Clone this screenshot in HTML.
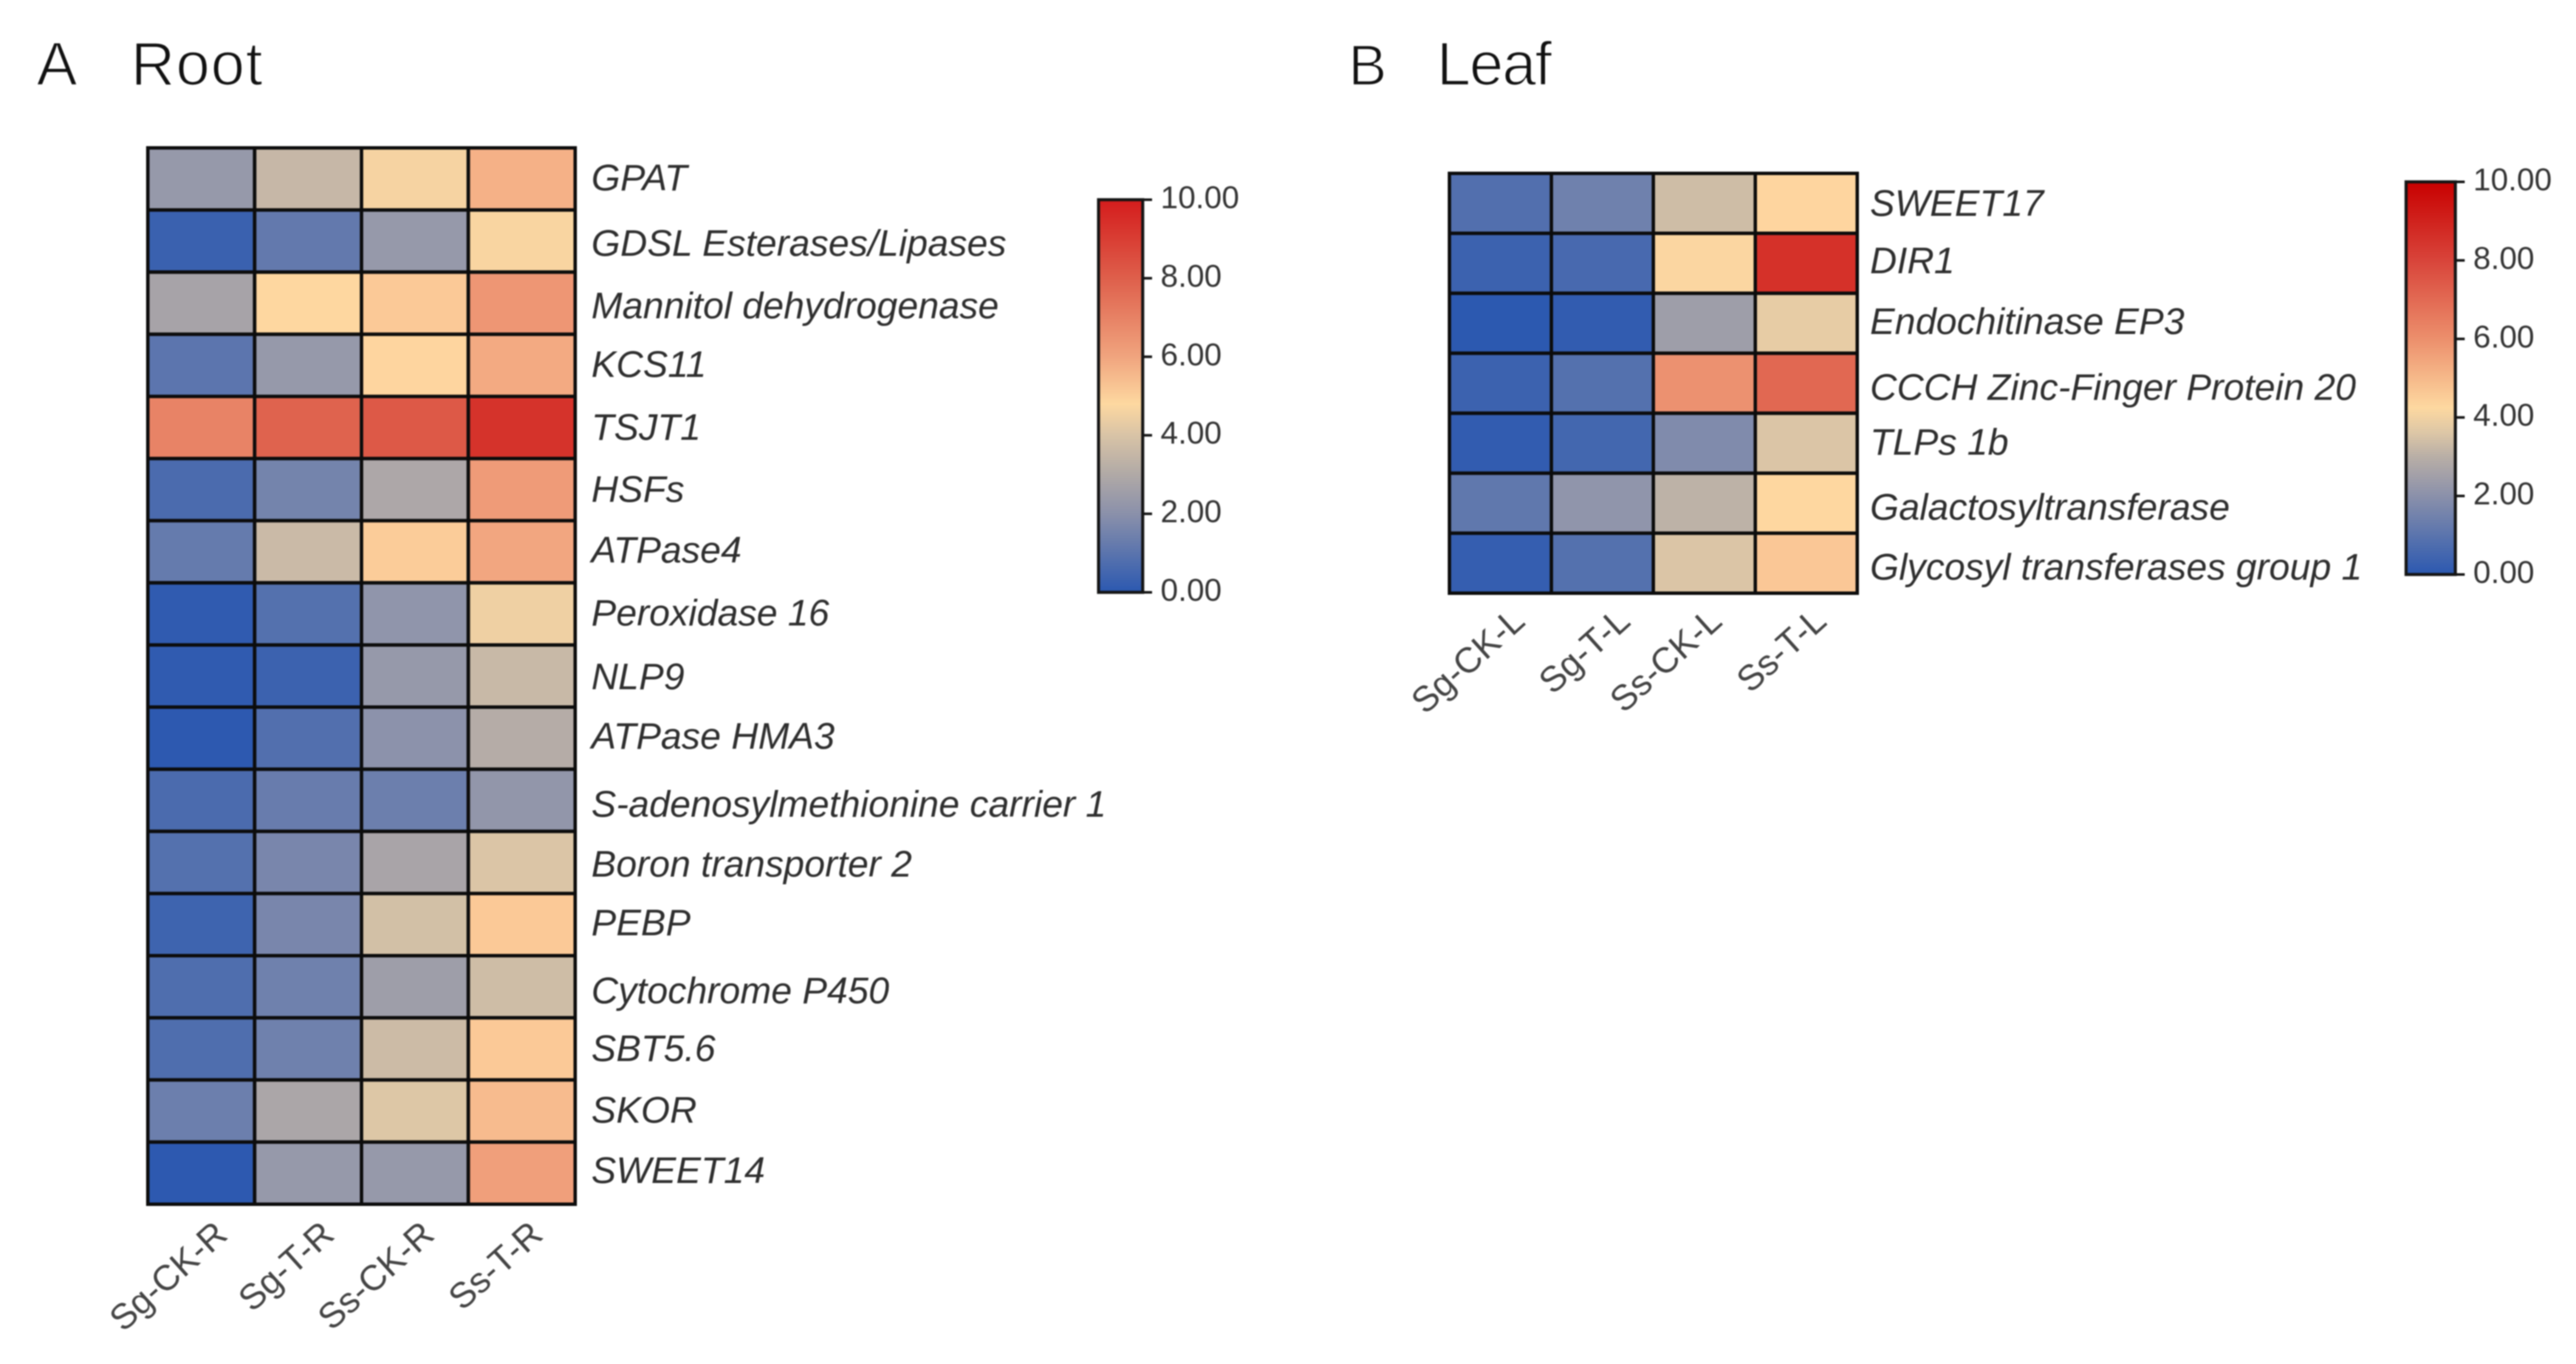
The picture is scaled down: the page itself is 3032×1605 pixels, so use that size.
<!DOCTYPE html>
<html lang="en">
<head>
<meta charset="utf-8">
<title>Root and Leaf expression heatmaps</title>
<style>
html,body{margin:0;padding:0;background:#fff;width:3032px;height:1605px;overflow:hidden}
svg{display:block;filter:blur(0.7px)}
text{font-family:"Liberation Sans",Arial,sans-serif}
.title{font-size:72px;fill:#111;stroke:#fff;stroke-width:1.6px;paint-order:normal}
.gene{font-size:43.8px;font-style:italic;fill:#2e2e2e}
.xlab{font-size:42px;fill:#444}
.tick{font-size:37px;fill:#333}
</style>
</head>
<body>
<svg id="chart" xmlns="http://www.w3.org/2000/svg" width="3032" height="1605" viewBox="0 0 3032 1605">
  <rect x="0" y="0" width="3032" height="1605" fill="#fff"/>
  <text class="title" x="43" y="100">A</text>
  <text class="title" x="154" y="100" style="letter-spacing:1px">Root</text>
  <text class="title" x="1587" y="100" style="font-size:68px">B</text>
  <text class="title" x="1691" y="100" style="letter-spacing:-1.5px">Leaf</text>
  <defs>
    <linearGradient id="cbar-grad-a" x1="0" y1="1" x2="0" y2="0"></linearGradient>
    <linearGradient id="cbar-grad-b" x1="0" y1="1" x2="0" y2="0"></linearGradient>
  </defs>
  <g id="panel-a"></g>
  <g id="panel-b"></g>
</svg>
<script>
// ---------- data ----------
const rootSamples = ["Sg-CK-R","Sg-T-R","Ss-CK-R","Ss-T-R"];
const leafSamples = ["Sg-CK-L","Sg-T-L","Ss-CK-L","Ss-T-L"];
const rootGenes = ["GPAT","GDSL Esterases/Lipases","Mannitol dehydrogenase","KCS11","TSJT1","HSFs","ATPase4","Peroxidase 16","NLP9","ATPase HMA3","S-adenosylmethionine carrier 1","Boron transporter 2","PEBP","Cytochrome P450","SBT5.6","SKOR","SWEET14"];
const leafGenes = ["SWEET17","DIR1","Endochitinase EP3","CCCH Zinc-Finger Protein 20","TLPs 1b","Galactosyltransferase","Glycosyl transferases group 1"];
const rootValues = [
  [2.25,3.4,4.45,5.7],
  [0.3,1.15,2.25,4.5],
  [2.65,4.6,5.0,6.45],
  [1.0,2.25,4.65,5.9],
  [7.0,7.9,8.15,9.2],
  [0.65,1.5,2.8,6.3],
  [1.2,3.5,4.9,6.0],
  [0.1,0.85,2.1,4.3],
  [0.1,0.35,2.25,3.45],
  [0.05,0.8,2.0,3.0],
  [0.65,1.25,1.35,2.15],
  [0.85,1.6,2.7,3.9],
  [0.4,1.6,3.7,5.0],
  [0.75,1.4,2.45,3.6],
  [0.75,1.4,3.55,5.0],
  [1.35,2.75,3.95,5.4],
  [0.05,2.25,2.25,6.2]
];
const leafValues = [
  [0.8,1.4,3.6,4.65],
  [0.35,0.6,4.55,9.25],
  [0.02,0.15,2.45,4.15],
  [0.35,0.85,6.6,7.75],
  [0.15,0.5,1.75,3.9],
  [1.1,2.1,3.2,4.6],
  [0.2,0.85,3.9,5.05]
];
const colorbarTicks = [0,2,4,6,8,10];
const colorDomain = [0,2,3,4,4.6,6,8,10];
const colorRange = ["#2b58b0","#8c92ab","#b5aca7","#dfc8a6","#fed7a0","#f2a680","#de5f4b","#cf1515"];
const cbarStopsA = [[0,"#2b58b0"],[2,"#8a90aa"],[3,"#b0a9a6"],[4,"#d8c3a6"],[4.8,"#fdd8a0"],[6,"#f0a47e"],[8,"#de5f4b"],[10,"#d41c1c"]];
const cbarStopsB = [[0,"#2b58b0"],[2,"#8a90aa"],[3,"#b8aea6"],[3.6,"#dcc6a6"],[4.25,"#fdd8a0"],[6,"#ec8f6c"],[8,"#d8443a"],[10,"#c80000"]];
const rootBaselineNudge = [13.5,17.5,17.5,13.5,14.5,14.5,12.5,13.5,15.5,12.5,19.5,16.5,12.5,19.5,14.5,13.5,11.5];
const leafBaselineNudge = [14.5,11.5,12.5,19.5,13.5,19.5,19.5];
const rootTailShift = [33,33,25,27];
const leafTailShift = [31,35,23,26];

// ---------- helpers ----------
const NS = "http://www.w3.org/2000/svg";
function make(tag, parent, attrs) {
  const el = document.createElementNS(NS, tag);
  for (const k in attrs) el.setAttribute(k, attrs[k]);
  parent.appendChild(el);
  return el;
}
function hexToRgb(h) {
  return [parseInt(h.slice(1,3),16), parseInt(h.slice(3,5),16), parseInt(h.slice(5,7),16)];
}
function colorScale(v) {
  const c = Math.max(colorDomain[0], Math.min(colorDomain[colorDomain.length-1], v));
  let i = 0;
  while (i < colorDomain.length-2 && c > colorDomain[i+1]) i++;
  const t = (c - colorDomain[i]) / (colorDomain[i+1] - colorDomain[i]);
  const a = hexToRgb(colorRange[i]), b = hexToRgb(colorRange[i+1]);
  return "rgb(" + a.map((x,j)=>Math.round(x + (b[j]-x)*t)).join(",") + ")";
}
function slug(s) {
  return s.toLowerCase().replace(/[^a-z0-9]+/g,"-").replace(/^-|-$/g,"");
}

function drawHeatmap(group, cfg) {
  const cols = cfg.samples.length, rows = cfg.genes.length;
  const cw = (cfg.right - cfg.left) / cols;
  const rh = (cfg.bottom - cfg.top) / rows;
  const xAxis = i => cfg.left + i * cw;
  const yAxis = i => cfg.top + i * rh;

  cfg.values.forEach((row, r) => {
    row.forEach((v, c) => {
      const cell = make("rect", group, {
        x: xAxis(c), y: yAxis(r), width: cw, height: rh,
        fill: colorScale(v), stroke: "#0c0c0c", "stroke-width": 4
      });
      
      
    });
  });

  cfg.genes.forEach((g, r) => {
    const t = make("text", group, {
      class: "gene", x: cfg.right + cfg.labelGap,
      y: yAxis(r) + rh / 2 + cfg.nudge[r]
    });
    t.textContent = g;
    
    
  });

  cfg.samples.forEach((s, c) => {
    const ex = xAxis(c) + cw / 2 + cfg.tail[c];
    const ey = cfg.bottom + cfg.xLabelDrop;
    const t = make("text", group, {
      class: "xlab", x: ex, y: ey, "text-anchor": "end",
      transform: "rotate(-42 " + ex + " " + ey + ")"
    });
    t.textContent = s;
    
    
  });
}

function drawColorbar(group, cfg) {
  const grad = document.getElementById(cfg.gradId);
  cfg.stops.forEach(st => {
    make("stop", grad, { offset: (st[0] / 10 * 100) + "%", "stop-color": st[1] });
  });
  const vAxis = v => cfg.bottom - (v / 10) * (cfg.bottom - cfg.top);
  const bar = make("rect", group, {
    x: cfg.left, y: cfg.top, width: cfg.right - cfg.left, height: cfg.bottom - cfg.top,
    fill: "url(#" + cfg.gradId + ")", stroke: "#141414", "stroke-width": 3.6
  });
  
  
  colorbarTicks.forEach(v => {
    const y = vAxis(v);
    const tick = make("line", group, {
      x1: cfg.right, x2: cfg.right + 11, y1: y, y2: y, stroke: "#141414", "stroke-width": 3
    });
    
    
    const lab = make("text", group, { class: "tick", x: cfg.right + 21, y: y + 10 });
    lab.textContent = v.toFixed(2);
    
    
  });
}

const panelA = document.getElementById("panel-a");
const panelB = document.getElementById("panel-b");

drawHeatmap(panelA, {
  samples: rootSamples, genes: rootGenes, values: rootValues,
  left: 174, right: 677, top: 174, bottom: 1417,
  labelGap: 19, nudge: rootBaselineNudge, tail: rootTailShift, xLabelDrop: 39
});
drawColorbar(panelA, {
  gradId: "cbar-grad-a", stops: cbarStopsA,
  left: 1293, right: 1345, top: 235, bottom: 697
});

drawHeatmap(panelB, {
  samples: leafSamples, genes: leafGenes, values: leafValues,
  left: 1706, right: 2186, top: 204, bottom: 698,
  labelGap: 15, nudge: leafBaselineNudge, tail: leafTailShift, xLabelDrop: 36
});
drawColorbar(panelB, {
  gradId: "cbar-grad-b", stops: cbarStopsB,
  left: 2832, right: 2890, top: 214, bottom: 676
});
</script>
</body>
</html>
